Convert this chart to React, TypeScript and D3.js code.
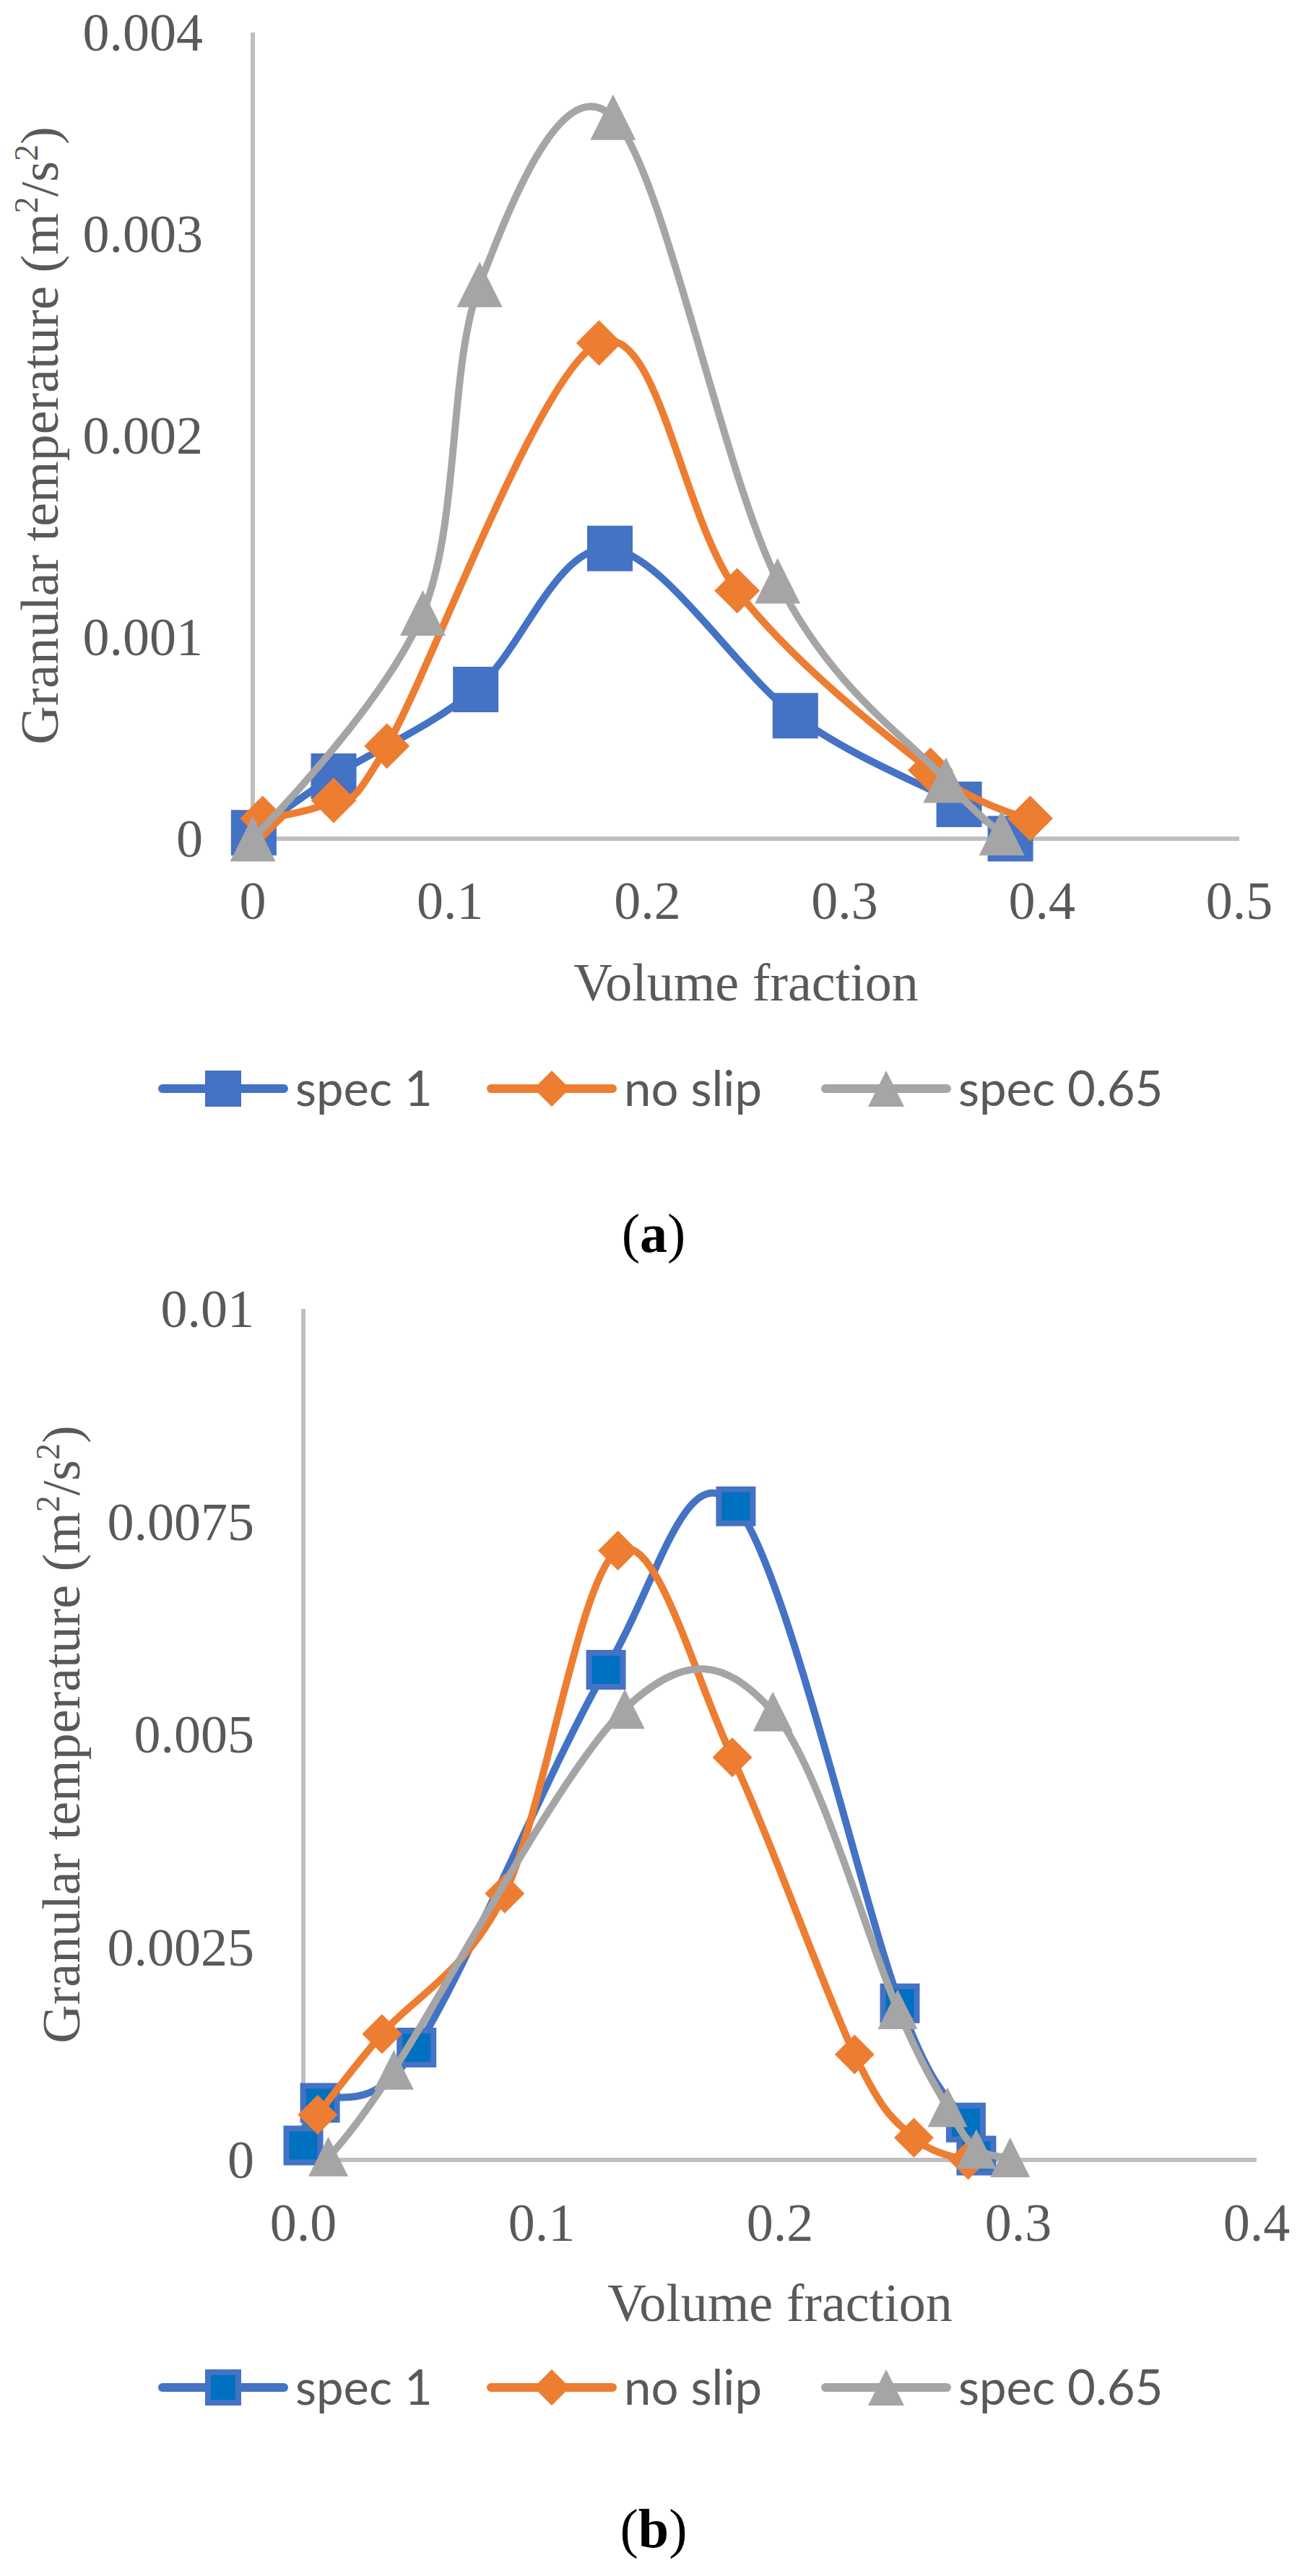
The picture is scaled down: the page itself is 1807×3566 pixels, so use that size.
import * as d3 from "d3"

// panel (a)
const xTicksA = [0, 0.1, 0.2, 0.3, 0.4, 0.5]
const yTicksA = [0, 0.001, 0.002, 0.003, 0.004]
const spec1XA = [0.0005, 0.041, 0.113, 0.181, 0.275, 0.358, 0.384]
const spec1YA = [0.00003, 0.00031, 0.00074, 0.00144, 0.00061, 0.00017, 0.0]
const noSlipXA = [0.005, 0.041, 0.068, 0.1755, 0.2455, 0.3435, 0.394]
const noSlipYA = [0.0001, 0.00019, 0.00046, 0.00246, 0.00123, 0.00034, 0.0001]
const spec065XA = [0, 0.0862, 0.115, 0.1826, 0.266, 0.3513, 0.3796]
const spec065YA = [0, 0.00112, 0.00275, 0.00358, 0.00128, 0.00029, 0.00003]

// panel (b)
const xTicksB = [0, 0.1, 0.2, 0.3, 0.4]
const yTicksB = [0, 0.0025, 0.005, 0.0075, 0.01]
const spec1XB = [0.0, 0.007, 0.0475, 0.127, 0.1815, 0.2503, 0.278, 0.2824]
const spec1YB = [0.00017, 0.00067, 0.00132, 0.00576, 0.00768, 0.00184, 0.00044, 0.00005]
const noSlipXB = [0.006, 0.033, 0.0845, 0.132, 0.18, 0.2313, 0.2562, 0.279]
const noSlipYB = [0.00053, 0.00148, 0.00313, 0.00716, 0.00473, 0.00124, 0.00026, 0.0]
const spec065XB = [0.0105, 0.038, 0.1349, 0.197, 0.2494, 0.2703, 0.2824, 0.2966]
const spec065YB = [0.00004, 0.00106, 0.0053, 0.00527, 0.00177, 0.00062, 0.00013, 0.00003]

const seriesNames = ["spec 1", "no slip", "spec 0.65"]

const BLUE = "#4472C4"
const ORANGE = "#ED7D31"
const GRAY = "#A5A5A5"
const TEXT = "#595959"
const AXIS = "#BFBFBF"
const SERIF = "'Liberation Serif', 'Times New Roman', serif"
const SANS = "Lato, 'Noto Sans', sans-serif"

type Shape = "square" | "diamond" | "triangle"

function markerPath(shape: Shape, cx: number, cy: number, s: number) {
  const h = s / 2
  if (shape === "square") return `M${cx - h},${cy - h}H${cx + h}V${cy + h}H${cx - h}Z`
  if (shape === "diamond") return `M${cx},${cy - h}L${cx + h},${cy}L${cx},${cy + h}L${cx - h},${cy}Z`
  return `M${cx},${cy - h}L${cx + h},${cy + h}L${cx - h},${cy + h}Z`
}

type Series = {
  xs: number[]
  ys: number[]
  color: string
  shape: Shape
  fill?: string
  border?: number
}

function Panel(props: {
  xTicks: number[]
  yTicks: number[]
  xFmt: (v: number) => string
  yFmt: (v: number) => string
  xRange: [number, number]
  yRange: [number, number]
  series: Series[]
  markerSize: number
  lineWidth: number
  tickRight: number
  titleX: number
  xLabelY: number
  xTitleY: number
  legendY: number
  caption: string
  captionY: number
}) {
  const p = props
  const x = d3
    .scaleLinear()
    .domain([p.xTicks[0], p.xTicks[p.xTicks.length - 1]])
    .range(p.xRange)
  const y = d3
    .scaleLinear()
    .domain([p.yTicks[0], p.yTicks[p.yTicks.length - 1]])
    .range(p.yRange)
  const line = d3
    .line<[number, number]>()
    .x((d) => x(d[0]))
    .y((d) => y(d[1]))
    .curve(d3.curveCardinal.tension(0))

  const x0 = p.xRange[0]
  const x1 = p.xRange[1]
  const y0 = p.yRange[0]
  const y1 = p.yRange[1]
  const midX = (x0 + x1) / 2
  const midY = (y0 + y1) / 2

  // legend layout
  const legendX = [225, 680, 1143]
  const legendLine = 168

  return (
    <g>
      {/* axes */}
      <line x1={x0} x2={x0} y1={y1} y2={y0} stroke={AXIS} strokeWidth={6} />
      <line x1={x0} x2={x1} y1={y0} y2={y0} stroke={AXIS} strokeWidth={6} />

      {/* tick labels */}
      <g fontFamily={SERIF} fontSize={74} fill={TEXT}>
        {p.yTicks.map((t) => (
          <text key={"y" + t} x={p.tickRight} y={y(t)} dy="0.34em" textAnchor="end">
            {p.yFmt(t)}
          </text>
        ))}
        {p.xTicks.map((t) => (
          <text key={"x" + t} x={x(t)} y={p.xLabelY} dy="0.34em" textAnchor="middle">
            {p.xFmt(t)}
          </text>
        ))}
        <text x={midX} y={p.xTitleY} dy="0.34em" textAnchor="middle">
          Volume fraction
        </text>
        <text transform={`translate(${p.titleX},${midY}) rotate(-90)`} textAnchor="middle">
          Granular temperature (m
          <tspan fontSize={46} dy={-28}>2</tspan>
          <tspan dy={28}>/s</tspan>
          <tspan fontSize={46} dy={-28}>2</tspan>
          <tspan dy={28}>)</tspan>
        </text>
      </g>

      {/* series */}
      {p.series.map((s, i) => {
        const pts = s.xs.map((v, j) => [v, s.ys[j]] as [number, number])
        return (
          <g key={i}>
            <path
              d={line(pts) || ""}
              fill="none"
              stroke={s.color}
              strokeWidth={p.lineWidth}
              strokeLinejoin="round"
              strokeLinecap="round"
            />
            {pts.map((d, j) => (
              <path
                key={j}
                d={markerPath(
                  s.shape,
                  x(d[0]),
                  y(d[1]),
                  p.markerSize - (s.border || 0)
                )}
                fill={s.fill || s.color}
                stroke={s.border ? s.color : "none"}
                strokeWidth={s.border || 0}
              />
            ))}
          </g>
        )
      })}

      {/* legend */}
      {p.series.map((s, i) => {
        const lx = legendX[i]
        return (
          <g key={"lg" + i}>
            <line
              x1={lx}
              x2={lx + legendLine}
              y1={p.legendY}
              y2={p.legendY}
              stroke={s.color}
              strokeWidth={12}
              strokeLinecap="round"
            />
            <path
              d={markerPath(s.shape, lx + legendLine / 2, p.legendY, 50 - (s.border || 0))}
              fill={s.fill || s.color}
              stroke={s.border ? s.color : "none"}
              strokeWidth={s.border || 0}
            />
            <text
              x={lx + legendLine + 16}
              y={p.legendY}
              dy="0.36em"
              fontFamily={SANS}
              fontSize={67}
              fill={TEXT}
            >
              {seriesNames[i]}
            </text>
          </g>
        )
      })}

      {/* caption */}
      <text
        x={905}
        y={p.captionY}
        dy="0.3em"
        textAnchor="middle"
        fontFamily={SERIF}
        fontSize={76}
        fill="#000"
      >
        (<tspan fontWeight="bold">{p.caption}</tspan>)
      </text>
    </g>
  )
}

export default function App() {
  const fmtA = (v: number) => (v === 0 ? "0" : String(v))
  const fmtXB = (v: number) => v.toFixed(1)
  return (
    <svg
      width={1807}
      height={3566}
      viewBox="0 0 1807 3566"
      style={{ position: "absolute", left: 0, top: 0, background: "#fff" }}
    >
      <rect width={1807} height={3566} fill="#fff" />
      <Panel
        xTicks={xTicksA}
        yTicks={yTicksA}
        xFmt={fmtA}
        yFmt={fmtA}
        xRange={[350, 1716]}
        yRange={[1161, 45]}
        series={[
          { xs: spec1XA, ys: spec1YA, color: BLUE, shape: "square" },
          { xs: noSlipXA, ys: noSlipYA, color: ORANGE, shape: "diamond" },
          { xs: spec065XA, ys: spec065YA, color: GRAY, shape: "triangle" },
        ]}
        markerSize={63}
        lineWidth={10}
        tickRight={281}
        titleX={80}
        xLabelY={1247}
        xTitleY={1360}
        legendY={1507}
        caption="a"
        captionY={1710}
      />
      <Panel
        xTicks={xTicksB}
        yTicks={yTicksB}
        xFmt={fmtXB}
        yFmt={fmtA}
        xRange={[420, 1740]}
        yRange={[2990, 1812]}
        series={[
          { xs: spec1XB, ys: spec1YB, color: BLUE, shape: "square", fill: "#0070C0", border: 8 },
          { xs: noSlipXB, ys: noSlipYB, color: ORANGE, shape: "diamond" },
          { xs: spec065XB, ys: spec065YB, color: GRAY, shape: "triangle" },
        ]}
        markerSize={55}
        lineWidth={10}
        tickRight={352}
        titleX={110}
        xLabelY={3077}
        xTitleY={3188}
        legendY={3305}
        caption="b"
        captionY={3503}
      />
    </svg>
  )
}
